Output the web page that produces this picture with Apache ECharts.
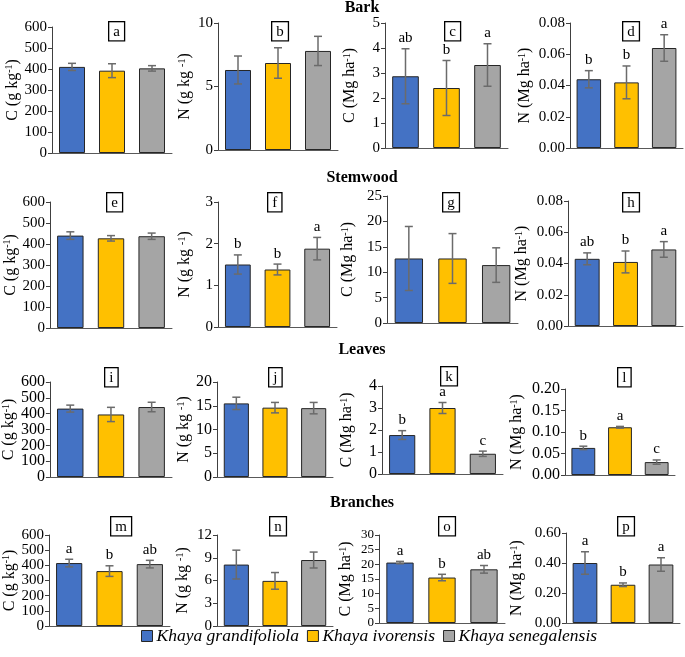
<!DOCTYPE html>
<html><head><meta charset="utf-8">
<script src="https://cdn.jsdelivr.net/npm/echarts@6/dist/echarts.min.js"></script>
<style>html,body{margin:0;padding:0;background:#fff}#c{width:685px;height:657px}</style>
</head><body><div id="c"></div>
<script>
// ---------- data ----------
const species = ['Khaya grandifoliola', 'Khaya ivorensis', 'Khaya senegalensis'];
const sections = ['Bark', 'Stemwood', 'Leaves', 'Branches'];
const panelLetters = ['a','b','c','d','e','f','g','h','i','j','k','l','m','n','o','p'];
const yNames = ['C (g kg{s|-1})', 'N (g kg {s|-1})', 'C (Mg ha{s|-1})', 'N (Mg ha{s|-1})'];
const yMax  = [600, 10, 5, 0.08,  600, 3, 25, 0.08,  600, 20, 4, 0.20,  600, 12, 30, 0.60];
const yStep = [100, 5, 1, 0.02,   100, 1, 5, 0.02,   100, 5, 1, 0.05,   100, 3, 5, 0.2];
const yDec  = [0, 0, 0, 2,  0, 0, 0, 2,  0, 0, 0, 2,  0, 0, 0, 2];

const aMean = [410, 392, 403],      aErr = [17, 33, 13],           aSig = ['', '', ''];
const bMean = [6.3, 6.85, 7.8],     bErr = [1.1, 1.2, 1.15],       bSig = ['', '', ''];
const cMean = [2.87, 2.4, 3.32],    cErr = [1.1, 1.1, 0.85],       cSig = ['ab', 'b', 'a'];
const dMean = [0.044, 0.042, 0.064],dErr = [0.0055, 0.0105, 0.0085], dSig = ['b', 'b', 'a'];
const eMean = [440, 427, 437],      eErr = [18, 13, 15],           eSig = ['', '', ''];
const fMean = [1.5, 1.38, 1.88],    fErr = [0.23, 0.13, 0.27],     fSig = ['b', 'b', 'a'];
const gMean = [12.7, 12.7, 11.4],   gErr = [6.3, 4.9, 3.4],        gSig = ['', '', ''];
const hMean = [0.043, 0.041, 0.049],hErr = [0.0038, 0.007, 0.005], hSig = ['ab', 'b', 'a'];
const iMean = [432, 395, 442],      iErr = [22, 45, 30],           iSig = ['', '', ''];
const jMean = [15.5, 14.6, 14.5],   jErr = [1.3, 1.1, 1.2],        jSig = ['', '', ''];
const kMean = [1.77, 3.0, 0.92],    kErr = [0.2, 0.25, 0.12],      kSig = ['b', 'a', 'c'];
const lMean = [0.063, 0.111, 0.03], lErr = [0.004, 0.002, 0.005],  lSig = ['b', 'a', 'c'];
const mMean = [415, 362, 408],      mErr = [25, 35, 25],           mSig = ['a', 'b', 'ab'];
const nMean = [8.1, 5.95, 8.7],     nErr = [1.9, 1.1, 1.05],       nSig = ['', '', ''];
const oMean = [20.6, 15.5, 18.3],   oErr = [0.4, 1.1, 1.3],        oSig = ['a', 'b', 'ab'];
const pMean = [0.40, 0.255, 0.39],  pErr = [0.075, 0.012, 0.045],  pSig = ['a', 'b', 'a'];

const means = [aMean,bMean,cMean,dMean,eMean,fMean,gMean,hMean,iMean,jMean,kMean,lMean,mMean,nMean,oMean,pMean];
const errs  = [aErr,bErr,cErr,dErr,eErr,fErr,gErr,hErr,iErr,jErr,kErr,lErr,mErr,nErr,oErr,pErr];
const sigs  = [aSig,bSig,cSig,dSig,eSig,fSig,gSig,hSig,iSig,jSig,kSig,lSig,mSig,nSig,oSig,pSig];

// ---------- layout (pixels) ----------
const boxes = [ // [left, right, top, bottom]
  [52,172,27,153],[218,338,23,150],[385,508,23,148],[570,683,23,148],
  [50,172,202,328],[218,337,202,327],[387,518,196,323],[568,683,201,326],
  [49,172,382,477],[217,333,382,477],[382,503,386,474],[565,675,389,475],
  [49,170,535,626],[217,333,535,626],[379,505,535,623],[566,680,533,623]
];
const nameGaps = [31,25,27,37, 30,25,31,38, 31,25,27,40, 31,26,25,41];
const tickFont = [15,15,15,15, 15,15,15,15, 16,16,16,16, 15,15,13,15];
const letterPos = [[116,32],[279,32],[452,32],[630,32],[114,203],[275,203],[450,203],[630,203],
  [112,378],[276,378],[448,377],[625,378],[118,527],[277,527],[446,527],[625,527]];
const sectionY = [8, 178, 350, 503];
const colors = ['#4472C4', '#FFC000', '#A5A5A5'];
const FONT = '"Liberation Serif", "Times New Roman", serif';

const grid = [], xAxis = [], yAxis = [], series = [], graphic = [];
boxes.forEach((b, p) => {
  grid.push({left: b[0], top: b[2], width: b[1] - b[0], height: b[3] - b[2]});
  xAxis.push({gridIndex: p, type: 'category', data: species,
    axisLabel: {show: false}, axisTick: {show: false},
    axisLine: {lineStyle: {color: '#595959', width: 1}}});
  yAxis.push({gridIndex: p, type: 'value', min: 0, max: yMax[p], interval: yStep[p],
    name: yNames[p % 4], nameLocation: 'middle', nameGap: nameGaps[p], nameRotate: 90,
    nameTextStyle: {fontFamily: FONT, fontSize: 16, color: '#000', lineHeight: 16,
      rich: {s: {fontFamily: FONT, fontSize: 10, color: '#000', verticalAlign: 'top', lineHeight: 16}}},
    axisLine: {show: true, lineStyle: {color: '#404040', width: 1}},
    axisTick: {show: true, length: 4, lineStyle: {color: '#404040'}},
    splitLine: {show: false},
    axisLabel: {fontFamily: FONT, fontSize: tickFont[p], color: '#000', margin: 5,
      showMinLabel: true, showMaxLabel: true,
      formatter: v => v.toFixed(yDec[p])}});
  species.forEach((s, k) => {
    series.push({type: 'bar', name: s, xAxisIndex: p, yAxisIndex: p,
      barWidth: '65%', barGap: '-100%',
      itemStyle: {color: colors[k], borderColor: '#262626', borderWidth: 1},
      data: species.map((_, j) => j === k ? means[p][j] : '-')});
  });
  series.push({type: 'custom', name: 'err' + p, xAxisIndex: p, yAxisIndex: p, z: 5,
    data: means[p].map((m, j) => [j, m, errs[p][j]]),
    renderItem: function (params, api) {
      const x = api.value(0), m = api.value(1), e = api.value(2);
      const sig = sigs[p][x];
      const top = api.coord([x, m + e]), bot = api.coord([x, m - e]);
      const cw = 4;
      const st = {stroke: '#6b6b6b', lineWidth: 1.5};
      const ch = [
        {type: 'line', shape: {x1: top[0], y1: top[1], x2: bot[0], y2: bot[1]}, style: st},
        {type: 'line', shape: {x1: top[0] - cw, y1: top[1], x2: top[0] + cw, y2: top[1]}, style: st},
        {type: 'line', shape: {x1: bot[0] - cw, y1: bot[1], x2: bot[0] + cw, y2: bot[1]}, style: st}
      ];
      if (sig) ch.push({type: 'text', style: {text: sig, x: top[0], y: top[1] - 3,
        align: 'center', verticalAlign: 'bottom', font: '15px ' + FONT, fill: '#000'}});
      return {type: 'group', children: ch};
    }});
  graphic.push({type: 'text', left: letterPos[p][0] - 8, top: letterPos[p][1] - 11, z: 10,
    style: {text: panelLetters[p], font: '15px ' + FONT, fill: '#000',
      borderColor: '#000', borderWidth: 1.3, padding: [2, 4, 1, 4], backgroundColor: '#fff'}});
});
sections.forEach((s, i) => {
  graphic.push({type: 'text', x: 362, y: sectionY[i],
    style: {text: s, font: 'bold 16px ' + FONT, fill: '#000', align: 'center', verticalAlign: 'middle'}});
});

const chart = echarts.init(document.getElementById('c'), null, {renderer: 'canvas'});
chart.setOption({
  animation: false,
  grid, xAxis, yAxis, series, graphic,
  legend: {data: species, left: 136, top: 622, itemWidth: 11, itemHeight: 11, itemGap: 8,
    icon: 'rect',
    itemStyle: {borderColor: '#262626', borderWidth: 1},
    textStyle: {fontFamily: FONT, fontStyle: 'italic', fontSize: 17.5, color: '#000', padding: [0, 0, 0, -1]}}
});
</script></body></html>
